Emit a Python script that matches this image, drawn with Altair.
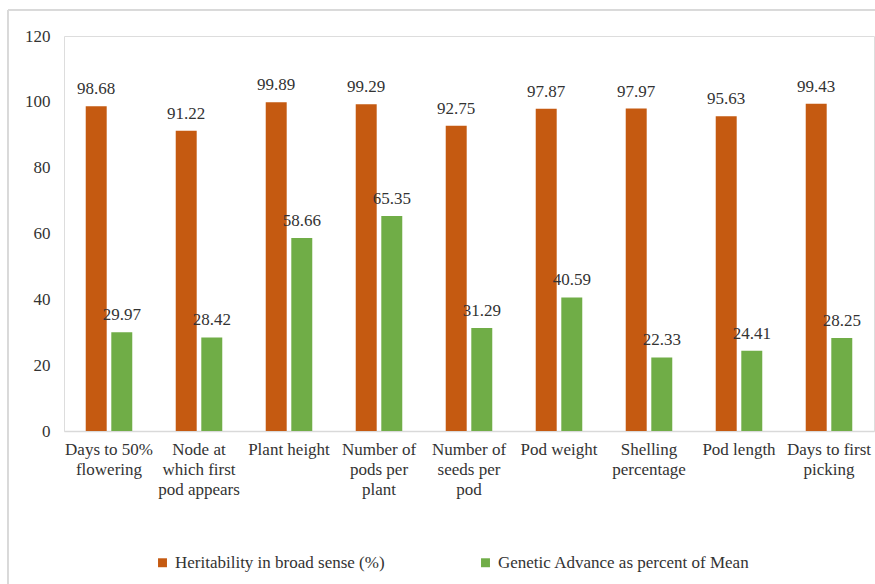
import altair as alt
import pandas as pd

categories = [
    "Days to 50%\nflowering",
    "Node at\nwhich first\npod appears",
    "Plant height",
    "Number of\npods per\nplant",
    "Number of\nseeds per\npod",
    "Pod weight",
    "Shelling\npercentage",
    "Pod length",
    "Days to first\npicking",
]
heritability = [98.68, 91.22, 99.89, 99.29, 92.75, 97.87, 97.97, 95.63, 99.43]
genetic_advance = [29.97, 28.42, 58.66, 65.35, 31.29, 40.59, 22.33, 24.41, 28.25]
series = ["Heritability in broad sense (%)", "Genetic Advance as percent of Mean"]
colors = ["#C55A11", "#70AD47"]

rows = []
for c, h, g in zip(categories, heritability, genetic_advance):
    rows.append({"cat": c, "series": series[0], "value": h})
    rows.append({"cat": c, "series": series[1], "value": g})
df = pd.DataFrame(rows)

FONT = "Liberation Serif"

x = alt.X(
    "cat:N",
    sort=categories,
    scale=alt.Scale(paddingInner=0, paddingOuter=0),
    axis=alt.Axis(
        title=None,
        labelAngle=0,
        labelExpr="split(datum.value, '\\n')",
        labelFont=FONT,
        labelFontSize=17,
        labelColor="#333333",
        labelLineHeight=20,
        labelPadding=10,
        labelLimit=200,
        ticks=False,
        domainColor="#d9d9d9",
        domainWidth=1.5,
    ),
)
xoff = alt.XOffset(
    "series:N",
    sort=series,
    scale=alt.Scale(paddingInner=0.18, paddingOuter=0.85),
)
y = alt.Y(
    "value:Q",
    scale=alt.Scale(domain=[0, 120], nice=False),
    axis=alt.Axis(
        title=None,
        values=[0, 20, 40, 60, 80, 100, 120],
        grid=False,
        domain=False,
        ticks=False,
        labelFont=FONT,
        labelFontSize=17,
        labelColor="#333333",
        labelPadding=14,
    ),
)
color = alt.Color(
    "series:N",
    sort=series,
    scale=alt.Scale(domain=series, range=colors),
    legend=alt.Legend(
        title=None,
        orient="none",
        direction="horizontal",
        legendX=90,
        legendY=518,
        symbolType="square",
        symbolSize=80,
        symbolStrokeWidth=0,
        labelFont=FONT,
        labelFontSize=17,
        labelColor="#333333",
        labelLimit=400,
        columnPadding=92,
        labelOffset=4,
    ),
)

bars = alt.Chart(df).mark_bar().encode(x=x, xOffset=xoff, y=y, color=color)
labels = alt.Chart(df).mark_text(
    baseline="bottom", dy=-8, font=FONT, fontSize=17, color="#333333"
).encode(
    x=x,
    xOffset=xoff,
    y=y,
    text=alt.Text("value:Q", format=".2f"),
)

frame_v = alt.Chart(df).mark_rule(color="#d9d9d9", strokeWidth=1).encode(
    x=alt.value(-56), y=alt.value(-26), y2=alt.value(560)
)
frame_h = alt.Chart(df).mark_rule(color="#d9d9d9", strokeWidth=1).encode(
    x=alt.value(-56), x2=alt.value(820), y=alt.value(-26)
)

chart = (
    alt.layer(bars, labels, frame_v, frame_h)
    .properties(
        width=810,
        height=395,
        autosize=alt.AutoSizeParams(type="none"),
        padding={"left": 64, "top": 36, "right": 1, "bottom": 153},
    )
    .configure_view(stroke=None)
    .configure(background="white")
)

chart.save("out.html", embed_options={"renderer": "svg", "actions": False})
